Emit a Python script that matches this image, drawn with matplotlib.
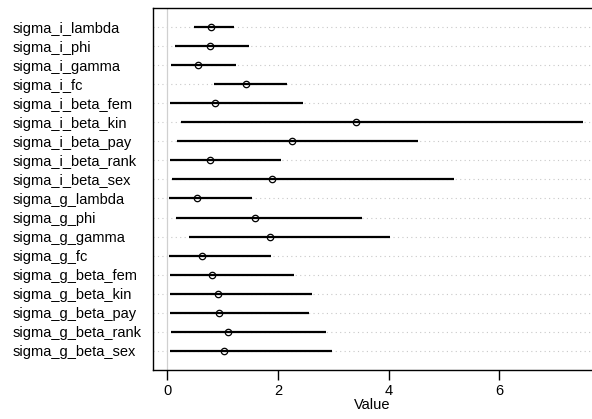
import matplotlib
matplotlib.use("Agg")
import matplotlib.pyplot as plt

plt.rcParams['font.family'] = ['Liberation Sans', 'DejaVu Sans']

params = ["sigma_i_lambda", "sigma_i_phi", "sigma_i_gamma", "sigma_i_fc",
          "sigma_i_beta_fem", "sigma_i_beta_kin", "sigma_i_beta_pay",
          "sigma_i_beta_rank", "sigma_i_beta_sex",
          "sigma_g_lambda", "sigma_g_phi", "sigma_g_gamma", "sigma_g_fc",
          "sigma_g_beta_fem", "sigma_g_beta_kin", "sigma_g_beta_pay",
          "sigma_g_beta_rank", "sigma_g_beta_sex"]
mean = [0.79, 0.78, 0.56, 1.42, 0.87, 3.41, 2.26, 0.77, 1.90,
        0.53, 1.58, 1.85, 0.63, 0.81, 0.92, 0.94, 1.09, 1.03]
lower = [0.49, 0.14, 0.06, 0.84, 0.05, 0.24, 0.17, 0.05, 0.08,
         0.03, 0.16, 0.40, 0.03, 0.04, 0.05, 0.05, 0.07, 0.05]
upper = [1.20, 1.47, 1.24, 2.17, 2.45, 7.51, 4.53, 2.05, 5.19,
         1.54, 3.52, 4.03, 1.87, 2.29, 2.62, 2.56, 2.87, 2.98]

fig = plt.figure(figsize=(5.92, 4.19), dpi=100)
ax = fig.add_axes([0.258, 0.117, 0.742, 0.864])

rows = list(range(1, len(params) + 1))

# guide lines
for r in rows:
    ax.axhline(r, color="#c8c8c8", lw=0.8, ls=(0, (1, 3)), zorder=0)
ax.axvline(0, color="#d0d0d0", lw=0.9, zorder=0)

ax.hlines(rows, lower, upper, color="black", lw=1.6, zorder=2)
ax.plot(mean, rows, "o", ms=4.6, mfc="none", mec="black", mew=0.9, zorder=3)

ax.set_xlim(-0.264, 7.68)
ax.set_ylim(19, 0)
ax.set_yticks(rows)
ax.set_yticklabels(params, fontsize=10.5, ha="left")
# labels start near the left edge of the figure
ax.tick_params(axis="y", length=0, pad=(152.7 - 13) * 0.72)
ax.set_xticks([0, 2, 4, 6])
ax.tick_params(axis="x", length=7, width=1, labelsize=10.5, pad=3)
ax.set_xlabel("Value", fontsize=10.5, labelpad=0)

ax.spines["right"].set_visible(False)
for s in ["left", "top", "bottom"]:
    ax.spines[s].set_linewidth(1.0)

fig.savefig("out.png", dpi=100)
